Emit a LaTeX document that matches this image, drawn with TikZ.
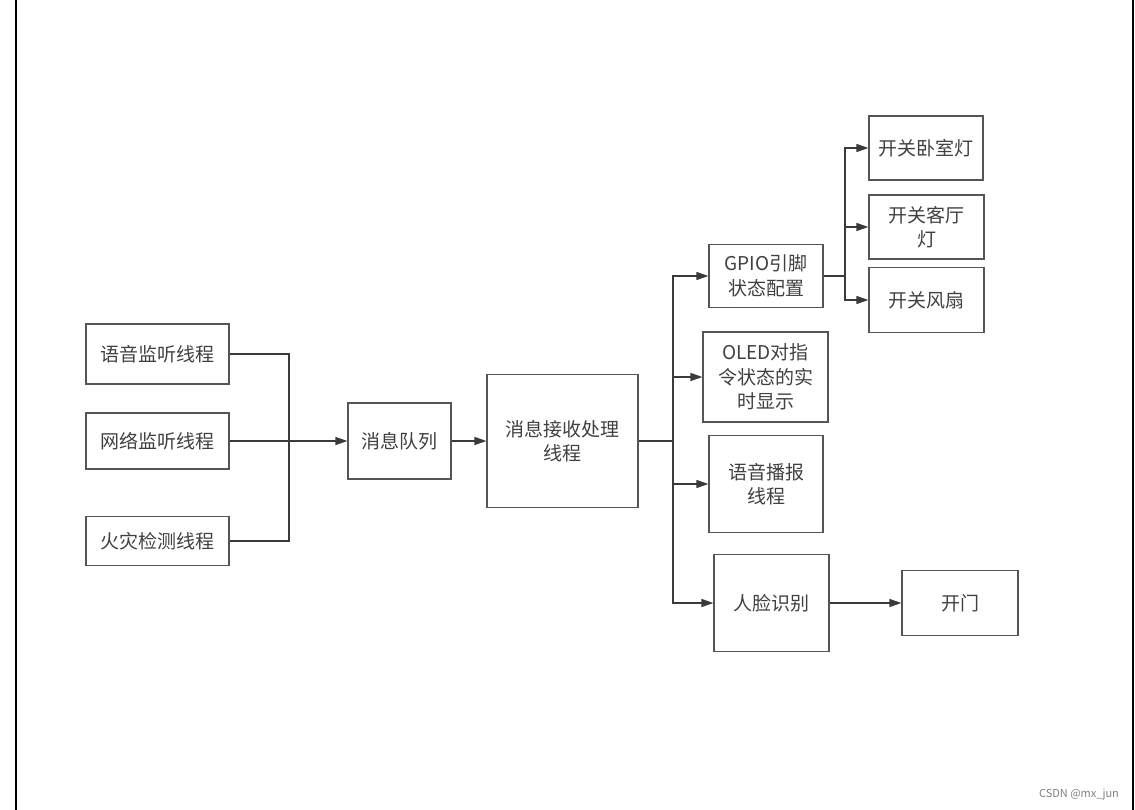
\documentclass[tikz,border=0pt]{standalone}
\usepackage{fontspec}
\newfontfamily\cjk{Noto Sans CJK SC}
\usetikzlibrary{arrows.meta}
\definecolor{boxline}{HTML}{555555}
\definecolor{txt}{HTML}{404040}
\definecolor{wire}{HTML}{3A3A3A}
\tikzset{
	blk/.style={draw=boxline, line width=1.2pt, text=txt, font=\cjk\fontsize{19}{24.5}\selectfont,
		align=center, inner sep=0pt},
	wire/.style={draw=wire, line width=1.3pt},
	arr/.style={wire, -{Triangle[length=12pt,width=8pt]}}
}
\begin{document}
\begin{tikzpicture}[x=1pt, y=-1pt]
		\useasboundingbox (0,0) rectangle (1135,810);
		\draw[line width=1.5pt] (16,0) -- (16,810);
		\draw[line width=1.2pt] (1133,0) -- (1133,810);

		\node[blk, minimum width=143, minimum height=60] (voice) at (157.5,354) {语音监听线程};
		\node[blk, minimum width=143, minimum height=56] (net) at (157.5,441) {网络监听线程};
		\node[blk, minimum width=143, minimum height=49] (fire) at (157.5,541) {火灾检测线程};

		\node[blk, minimum width=103, minimum height=76] (queue) at (399.5,441) {消息队列};
		\node[blk, minimum width=151, minimum height=133] (recv) at (562.5,441) {消息接收处理\\线程};

		\node[blk, minimum width=114, minimum height=63] (gpio) at (766,276) {GPIO引脚\\状态配置};
		\node[blk, minimum width=125, minimum height=90] (oled) at (765.5,377) {OLED对指\\令状态的实\\时显示};
		\node[blk, minimum width=114, minimum height=97] (bcast) at (766,484) {语音播报\\线程};
		\node[blk, minimum width=115, minimum height=97] (face) at (771.5,603) {人脸识别};
		\node[blk, minimum width=116, minimum height=65] (door) at (960,603) {开门};

		\node[blk, minimum width=114, minimum height=64] (bed) at (926,148) {开关卧室灯};
		\node[blk, minimum width=115, minimum height=64] (hall) at (926.5,227) {开关客厅\\灯};
		\node[blk, minimum width=115, minimum height=65] (fan) at (926.5,300) {开关风扇};

		\coordinate (jl) at (289,441);
		\coordinate (jr) at (673,441);
		\coordinate (jg) at (845,276);

		\draw[wire] (voice.east) -| (jl);
		\draw[wire] (fire.east) -| (jl);
		\draw[arr] (net.east) -- (queue.west);
		\draw[arr] (queue.east) -- (recv.west);

		\draw[wire] (recv.east) -- (jr);
		\draw[arr] (jr) |- (gpio.west);
		\draw[arr] (jr) |- (oled.west);
		\draw[arr] (jr) |- (bcast.west);
		\draw[arr] (jr) |- (face.west);
		\draw[arr] (face.east) -- (door.west);

		\draw[wire] (gpio.east) -- (jg);
		\draw[arr] (jg) |- (bed.west);
		\draw[arr] (jg) |- (hall.west);
		\draw[arr] (jg) |- (fan.west);

		\node[font=\cjk\fontsize{11}{13}\selectfont, text=gray] (mark) at (1079,795) {CSDN @mx\_jun};
	\end{tikzpicture}
\end{document}
